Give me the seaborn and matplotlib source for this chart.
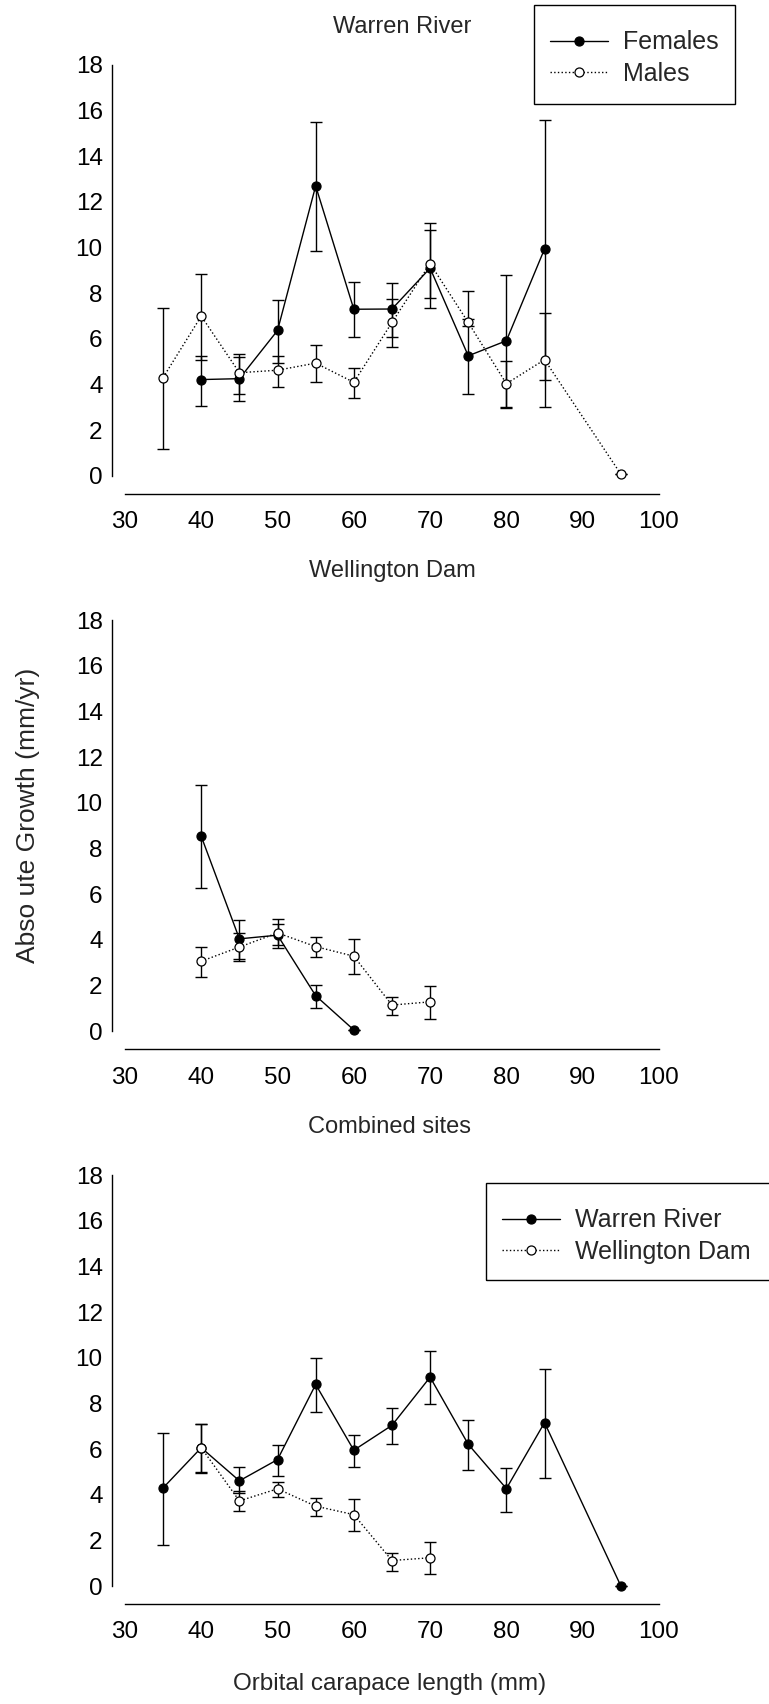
import numpy as np
import pandas as pd
import matplotlib
matplotlib.use('Agg')
import matplotlib.pyplot as plt
from matplotlib.patches import Rectangle
import seaborn as sns

# Warren River, by sex
wr_f_x = [40, 45, 50, 55, 60, 65, 70, 75, 80, 85]
wr_f_y = [4.22, 4.26, 6.37, 12.70, 7.30, 7.31, 9.10, 5.26, 5.92, 9.94]
wr_f_lo = [3.06, 3.28, 4.94, 9.83, 6.07, 6.10, 7.34, 3.60, 2.98, 4.19]
wr_f_hi = [5.27, 5.21, 7.72, 15.50, 8.48, 8.46, 10.79, 8.08, 8.81, 15.60]

wr_m_x = [35, 40, 45, 50, 55, 60, 65, 70, 75, 80, 85, 95]
wr_m_y = [4.31, 7.0, 4.52, 4.63, 4.94, 4.10, 6.72, 9.30, 6.72, 4.04, 5.09, 0.08]
wr_m_lo = [1.20, 5.09, 3.58, 3.90, 4.11, 3.40, 5.66, 7.78, 6.55, 3.02, 3.01, 0.08]
wr_m_hi = [7.36, 8.85, 5.32, 5.27, 5.75, 4.74, 7.73, 11.06, 6.88, 5.02, 7.12, 0.08]

# Wellington Dam, by sex
wd_f_x = [40, 45, 50, 55, 60]
wd_f_y = [8.53, 4.04, 4.20, 1.55, 0.05]
wd_f_lo = [6.25, 3.16, 3.76, 1.02, 0.05]
wd_f_hi = [10.78, 4.88, 4.67, 2.03, 0.05]

wd_m_x = [40, 45, 50, 55, 60, 65, 70]
wd_m_y = [3.06, 3.68, 4.30, 3.70, 3.28, 1.14, 1.28]
wd_m_lo = [2.35, 3.05, 3.66, 3.24, 2.48, 0.69, 0.54]
wd_m_hi = [3.69, 4.30, 4.89, 4.14, 4.03, 1.51, 1.96]

# Combined sites
cb_wr_x = [35, 40, 45, 50, 55, 60, 65, 70, 75, 80, 85, 95]
cb_wr_y = [4.30, 6.06, 4.61, 5.54, 8.83, 5.95, 7.04, 9.15, 6.21, 4.27, 7.16, 0.01]
cb_wr_lo = [1.79, 4.95, 4.08, 4.83, 7.61, 5.20, 6.24, 7.96, 5.07, 3.25, 4.75, 0.01]
cb_wr_hi = [6.71, 7.11, 5.22, 6.20, 9.99, 6.62, 7.81, 10.28, 7.27, 5.19, 9.50, 0.01]

cb_wd_x = [40, 45, 50, 55, 60, 65, 70]
cb_wd_y = [6.06, 3.73, 4.26, 3.50, 3.13, 1.12, 1.24]
cb_wd_lo = [5.00, 3.29, 3.88, 3.06, 2.41, 0.67, 0.52]
cb_wd_hi = [7.11, 4.15, 4.58, 3.86, 3.82, 1.47, 1.91]

x_ticks = [30, 40, 50, 60, 70, 80, 90, 100]
y_ticks = [0, 2, 4, 6, 8, 10, 12, 14, 16, 18]

sns.set_style('white')
plt.rcParams['font.family'] = ['Liberation Sans', 'DejaVu Sans']
plt.rcParams['font.size'] = 17

W, H = 769, 1704
fig = plt.figure(figsize=(W / 100, H / 100), dpi=100)

panels = [
    ('Warren River', 0.7207, 0.52, 38,
     (wr_f_x, wr_f_y, wr_f_lo, wr_f_hi, 'Females'),
     (wr_m_x, wr_m_y, wr_m_lo, wr_m_hi, 'Males')),
    ('Wellington Dam', 0.3949, 0.50, 49,
     (wd_f_x, wd_f_y, wd_f_lo, wd_f_hi, 'Females'),
     (wd_m_x, wd_m_y, wd_m_lo, wd_m_hi, 'Males')),
    ('Combined sites', 0.0692, 0.495, 48,
     (cb_wr_x, cb_wr_y, cb_wr_lo, cb_wr_hi, 'Warren River'),
     (cb_wd_x, cb_wd_y, cb_wd_lo, cb_wd_hi, 'Wellington Dam')),
]

axes = []
for title, bottom, tx, tpad, filled, hollow in panels:
    ax = fig.add_axes([0.1625, bottom, 0.6944, 0.2412])
    axes.append(ax)
    for (x, y, lo, hi, lab), ls, fc in [(filled, '-', 'black'), (hollow, ':', 'white')]:
        df = pd.DataFrame({'x': x, 'y': y})
        y_arr = np.array(y)
        ax.errorbar(x, y, yerr=[y_arr - np.array(lo), np.array(hi) - y_arr],
                    fmt='none', ecolor='black', elinewidth=1.0, capsize=4.5,
                    capthick=1.0, clip_on=False, zorder=2)
        sns.lineplot(data=df, x='x', y='y', ax=ax, color='black', linestyle=ls,
                     linewidth=1.0, marker='o', markersize=6.5,
                     markerfacecolor=fc, markeredgecolor='black', markeredgewidth=0.9,
                     label=lab, clip_on=False, zorder=3, legend=False)
    ax.set_xlim(30, 100)
    ax.set_ylim(0, 18)
    ax.set_xticks(x_ticks)
    ax.set_yticks(y_ticks)
    ax.set_xlabel('')
    ax.set_ylabel('')
    for s in ['top', 'right']:
        ax.spines[s].set_visible(False)
    ax.spines['left'].set_position(('outward', 9))
    ax.spines['bottom'].set_position(('outward', 13))
    for s in ['left', 'bottom']:
        ax.spines[s].set_color('black')
        ax.spines[s].set_linewidth(1.0)
    ax.tick_params(axis='both', direction='in', length=4, width=1.0, colors='black',
                   labelsize=17.5)
    ax.tick_params(axis='y', pad=7)
    ax.tick_params(axis='x', pad=12.5)
    ax.text(tx, 1 + tpad / 411, title, transform=ax.transAxes, ha='center',
            va='center', fontsize=17)

# legend contents + separately drawn frames (pixel boxes from the reference)
leg_specs = [(axes[0], (534, 14), (534, 5, 201, 99)),
             (axes[2], (486, 1192), (486, 1183, 300, 97))]
for ax, (lx, ly), (bx, by, bw, bh) in leg_specs:
    h, l = ax.get_legend_handles_labels()
    fig.legend(h, l, loc='upper left', bbox_to_anchor=(lx / W, 1 - ly / H),
               bbox_transform=fig.transFigure, frameon=False, fontsize=18,
               handlelength=2.3, borderpad=0.65, labelspacing=0.3,
               handletextpad=0.6, borderaxespad=0)
    fig.patches.append(Rectangle((bx / W, 1 - (by + bh) / H), bw / W, bh / H,
                                 transform=fig.transFigure, fill=False,
                                 edgecolor='black', linewidth=1.0))

fig.text(28 / W, 1 - 815 / H, 'Abso ute Growth (mm/yr)', rotation=90,
         ha='center', va='center', fontsize=19)
fig.text(390 / W, 1 - 1684 / H, 'Orbital carapace length (mm)',
         ha='center', va='center', fontsize=17.5)

fig.savefig('out.png', dpi=100)
